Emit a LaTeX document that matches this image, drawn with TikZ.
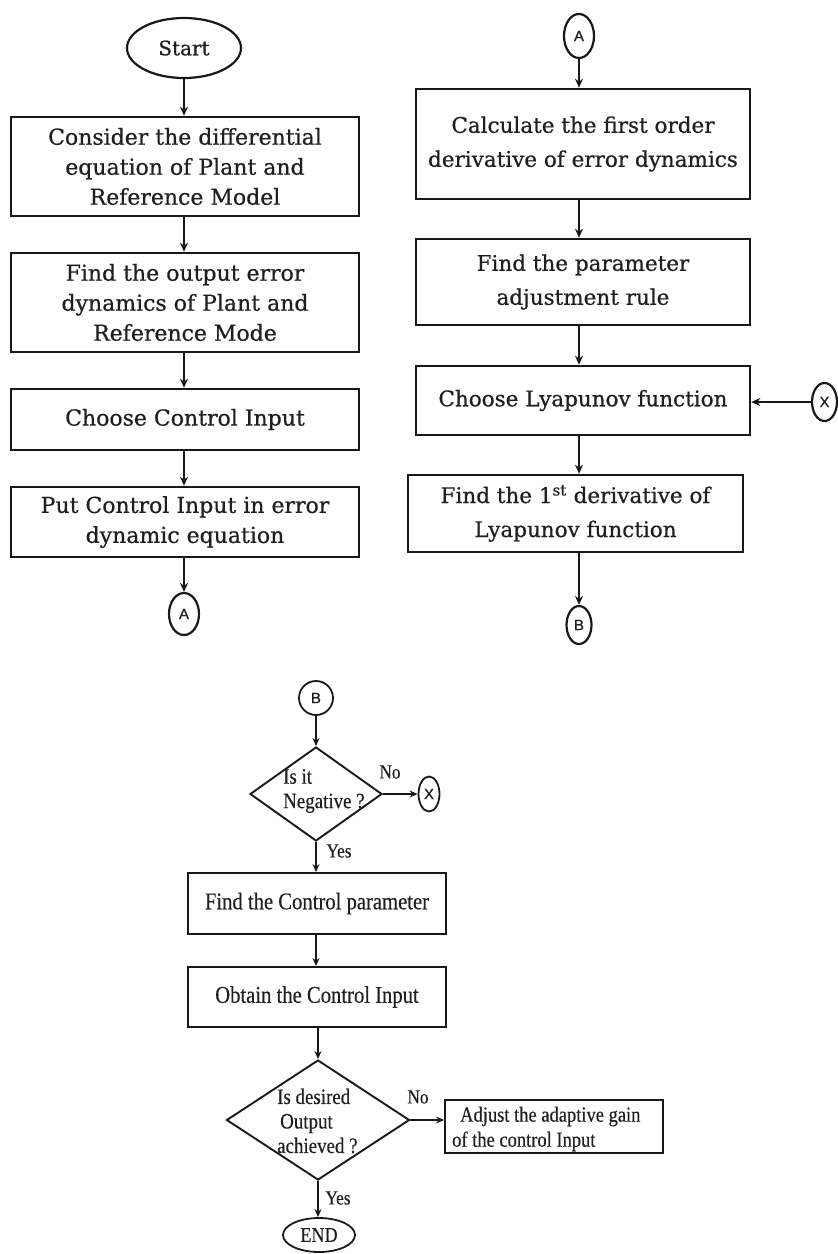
\documentclass[tikz,border=0pt]{standalone}
\usepackage{fontspec}
\setmainfont[FakeBold=0.6]{DejaVu Serif}
\newfontfamily\condserif[FakeStretch=0.86,FakeBold=0.3]{Liberation Serif}
\newfontfamily\connfont[FakeBold=0.8]{Liberation Sans}
\usetikzlibrary{shapes.geometric,arrows.meta}
\begin{document}
\begin{tikzpicture}[x=1pt,y=-1pt,
  ink/.style={draw=black!90, text=black!88},
  procL/.style={ink, rectangle, line width=2.6pt, inner sep=0pt, align=center,
    minimum width=348pt, font=\fontsize{22}{30}\selectfont},
  procR/.style={ink, rectangle, line width=2.6pt, inner sep=0pt, align=center,
    font=\fontsize{21.5}{34}\selectfont},
  procB/.style={ink, rectangle, line width=1.9pt, inner sep=0pt, align=center,
    font=\condserif\fontsize{24}{26}\selectfont},
  terminal/.style={ink, ellipse, inner sep=0pt},
  conn/.style={ink, ellipse, inner sep=0pt, font=\connfont\fontsize{15}{15}\selectfont},
  decision/.style={ink, diamond, line width=1.9pt, inner sep=0pt},
  dtext/.style={text=black!88, align=left, inner sep=0pt,
    font=\condserif\fontsize{22}{24.5}\selectfont},
  lbl/.style={text=black!88, inner sep=0pt, font=\condserif\fontsize{20}{20}\selectfont},
  flowT/.style={draw=black!90, line width=2.4pt, -{Stealth[length=9pt,width=8pt]}},
  flowB/.style={draw=black!90, line width=1.8pt, -{Stealth[length=8pt,width=7pt]}}
]
\useasboundingbox (0,0) rectangle (838,1254);

% ---- left column ----
\node[terminal, line width=2.2pt, minimum width=114pt, minimum height=60pt,
  font=\fontsize{20}{20}\selectfont] (start) at (184,48) {Start};
\node[procL, minimum height=99pt] (c1) at (185,166.5)
  {Consider the differential\\equation of Plant and\\Reference Model};
\node[procL, minimum height=99pt] (c2) at (185,302.5)
  {Find the output error\\dynamics of Plant and\\Reference Mode};
\node[procL, minimum height=61pt] (c3) at (185,419.5) {Choose Control Input};
\node[procL, minimum height=70pt] (c4) at (185,522)
  {Put Control Input in error\\dynamic equation};
\node[conn, line width=2.2pt, minimum width=30pt, minimum height=42pt] (a1) at (184,614) {A};

\draw[flowT] (start.south) -- (start.south |- c1.north);
\draw[flowT] (c1.south -| start) -- (c2.north -| start);
\draw[flowT] (c2.south -| start) -- (c3.north -| start);
\draw[flowT] (c3.south -| start) -- (c4.north -| start);
\draw[flowT] (c4.south -| start) -- (a1.north);

% ---- right column ----
\node[conn, line width=2.2pt, minimum width=30pt, minimum height=44pt] (a2) at (579,36) {A};
\node[procR, minimum width=334pt, minimum height=110pt] (r1) at (583,144)
  {Calculate the first order\\derivative of error dynamics};
\node[procR, minimum width=334pt, minimum height=86pt] (r2) at (583,282)
  {Find the parameter\\adjustment rule};
\node[procR, minimum width=334pt, minimum height=69pt] (r3) at (583,400.5)
  {Choose Lyapunov function};
\node[procR, minimum width=335pt, minimum height=77pt] (r4) at (575.5,513.5)
  {Find the 1\textsuperscript{st} derivative of\\Lyapunov function};
\node[conn, line width=2.2pt, minimum width=25pt, minimum height=38pt] (b1) at (579,625) {B};
\node[conn, line width=2.2pt, minimum width=25pt, minimum height=38pt] (x1) at (824.5,402) {X};

\draw[flowT] (a2.south) -- (a2.south |- r1.north);
\draw[flowT] (r1.south -| a2) -- (r2.north -| a2);
\draw[flowT] (r2.south -| a2) -- (r3.north -| a2);
\draw[flowT] (r3.south -| a2) -- (r4.north -| a2);
\draw[flowT] (r4.south -| a2) -- (b1.north);
\draw[flowT] (x1.west) -- (x1.west -| r3.east);

% ---- lower column ----
\node[conn, line width=1.8pt, minimum width=34pt, minimum height=34pt] (b2) at (316,698) {B};
\node[decision, minimum width=132pt, minimum height=94pt] (d1) at (316,794) {};
\node[dtext, anchor=west] (d1t) at (283,791) {Is it\\Negative ?};
\node[conn, line width=1.8pt, minimum width=21pt, minimum height=35pt] (x2) at (429,794) {X};
\node[procB, minimum width=258pt, minimum height=61pt] (p1) at (317,903.5)
  {Find the Control parameter};
\node[procB, minimum width=258pt, minimum height=60pt] (p2) at (317,997)
  {Obtain the Control Input};
\node[decision, minimum width=183pt, minimum height=120pt] (d2) at (318,1120) {};
\node[dtext, anchor=west] (d2t) at (277,1121) {Is desired\\\hspace*{3pt}Output\\achieved ?};
\node[procB, minimum width=218pt, minimum height=53pt] (adj) at (554,1126.5) {};
\node[dtext, anchor=west, font=\condserif\fontsize{21.5}{25}\selectfont] (adjt) at (452,1129)
  {\hspace*{8pt}Adjust the adaptive gain\\of the control Input};
\node[terminal, line width=1.8pt, minimum width=72pt, minimum height=34pt,
  font=\condserif\fontsize{21}{21}\selectfont] (end) at (319,1235) {END};

\draw[flowB] (b2.south) -- (d1.north);
\draw[flowB] (d1.east) -- (x2.west);
\draw[flowB] (d1.south) -- (d1.south |- p1.north);
\draw[flowB] (p1.south -| d1) -- (p2.north -| d1);
\draw[flowB] (p2.south -| d2) -- (d2.north);
\draw[flowB] (d2.east) -- (d2.east -| adj.west);
\draw[flowB] (d2.south) -- (end.north -| d2);

\node[lbl] (no1) at (390,772) {No};
\node[lbl] (yes1) at (339,851) {Yes};
\node[lbl] (no2) at (418,1097) {No};
\node[lbl] (yes2) at (338,1198) {Yes};
\end{tikzpicture}
\end{document}
